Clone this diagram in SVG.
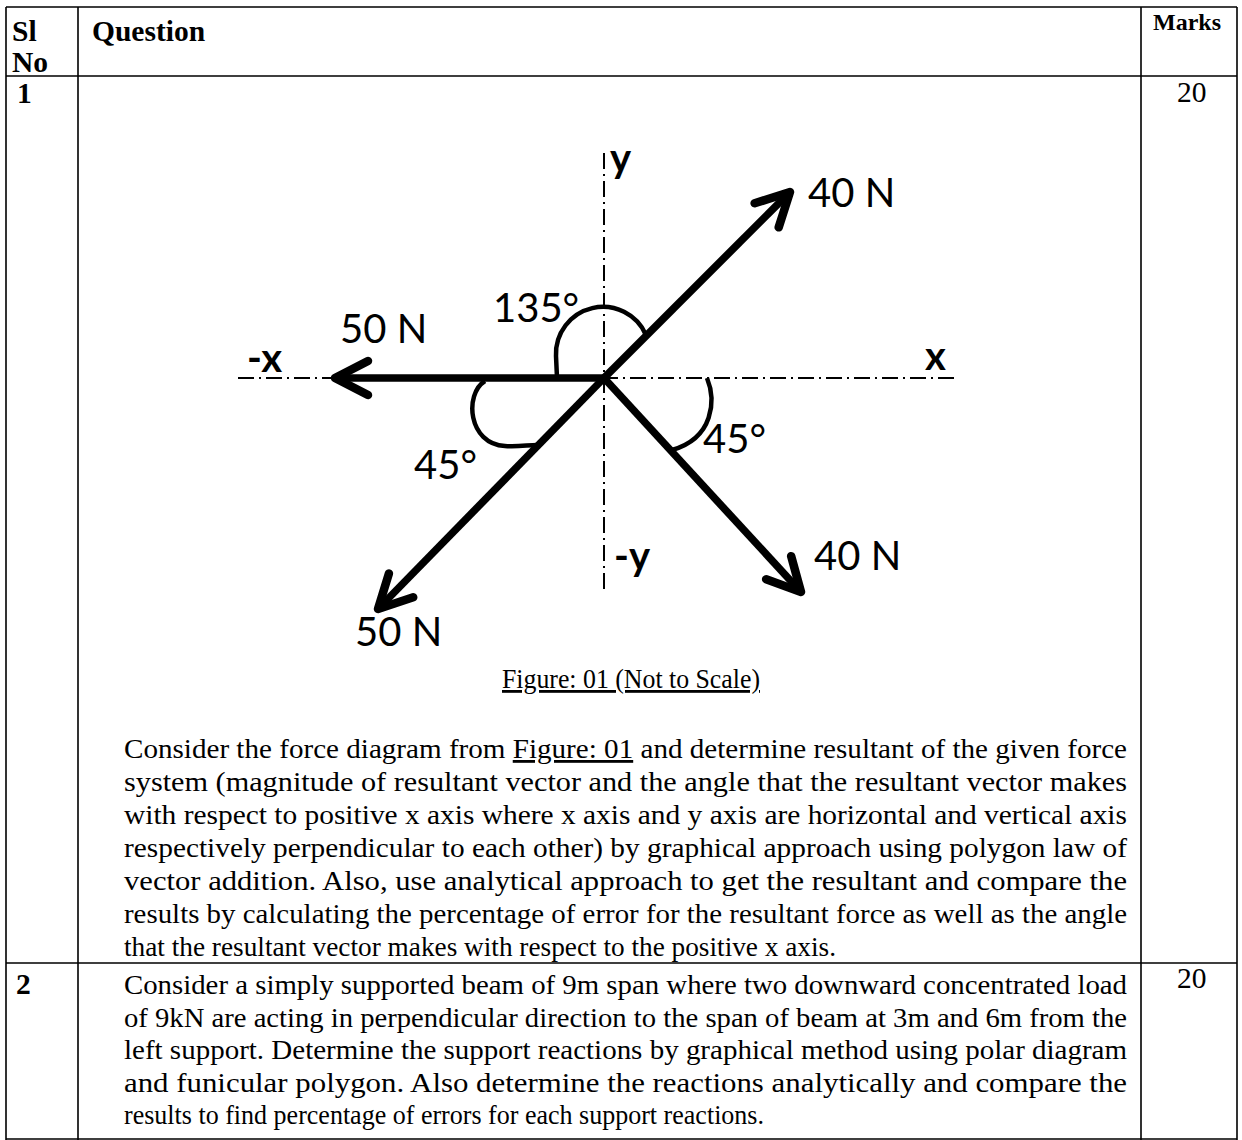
<svg xmlns="http://www.w3.org/2000/svg" width="1242" height="1140" viewBox="0 0 1242 1140">
<defs>
<style>
.tb{stroke:#000;stroke-width:1.6;fill:none}
.t{font-family:"Liberation Serif","Times New Roman",serif;font-size:29.5px;fill:#000}
.p{font-family:"Liberation Serif","Times New Roman",serif;font-size:28px;fill:#000}
.b{font-weight:bold}
.ax{stroke:#000;stroke-width:2;stroke-dasharray:16 5 2 5;fill:none}
.vec{stroke:#000;stroke-width:7.5;fill:none;marker-end:url(#ah)}
.arc{stroke:#000;stroke-width:4.5;fill:none}
.lb{font-family:Lato,"Liberation Sans",sans-serif;font-size:40px;fill:#000}
.lbb{font-weight:bold}
</style>
<marker id="ah" markerUnits="userSpaceOnUse" markerWidth="80" markerHeight="80" refX="0" refY="0" orient="auto" overflow="visible">
<path d="M-33,-17 L0,0 L-33,17" fill="none" stroke="#000" stroke-width="8.5" stroke-linecap="round" stroke-linejoin="round"/>
</marker>
</defs>
<rect width="1242" height="1140" fill="#fff"/>

<g id="table">
<path class="tb" d="M6,7 H1237 M6,76 H1237 M6,963 H1237 M6,1139 H1237 M6,7 V1140 M78,7 V1140 M1141,7 V1140 M1237,7 V1140"/>
</g>

<g id="header">
<text class="t b" x="12" y="41">Sl</text>
<text class="t b" x="12" y="72">No</text>
<text class="t b" x="92" y="41">Question</text>
<text class="t b" x="1153" y="30" style="font-size:24px">Marks</text>
</g>

<g id="row1-cells">
<text class="t b" x="17" y="103">1</text>
<text class="t" x="1177" y="102">20</text>
</g>

<g id="figure">
<g id="axes">
<path class="ax" d="M238,378 H957"/>
<path class="ax" d="M604,153 V594"/>
</g>
<g id="connectors">
<path class="vec" d="M604,378 L335,378"/>
<path class="vec" d="M604,378 L790,192"/>
<path class="vec" d="M604,378 L801,592"/>
<path class="vec" d="M604,378 L378,609"/>
</g>
<g id="angle-arcs">
<path class="arc" d="M557,378 L556,356 A47,47 0 0 1 646,335"/>
<path class="arc" d="M485,381 C464,394 468,444 505,446 C518,447 528,445 537,445"/>
<path class="arc" d="M707,378 C716,400 714,438 672,450"/>
</g>
<g id="axis-labels">
<text class="lb lbb" x="610" y="172">y</text>
<text class="lb lbb" x="247" y="372">-x</text>
<text class="lb lbb" x="925" y="370">x</text>
<text class="lb lbb" x="614" y="570">-y</text>
</g>
<g id="force-labels">
<text class="lb" x="340" y="343">50 N</text>
<text class="lb" x="808" y="207">40 N</text>
<text class="lb" x="814" y="570">40 N</text>
<text class="lb" x="355" y="646">50 N</text>
</g>
<g id="angle-labels">
<text class="lb" x="493" y="322">135°</text>
<text class="lb" x="414" y="479">45°</text>
<text class="lb" x="703" y="453">45°</text>
</g>
<text class="p" x="502" y="688" textLength="258" lengthAdjust="spacingAndGlyphs" text-decoration="underline">Figure: 01 (Not to Scale)</text>
</g>

<g id="row1-text">
<text class="p" x="124" y="758" textLength="1003" lengthAdjust="spacingAndGlyphs">Consider the force diagram from <tspan text-decoration="underline">Figure: 01</tspan> and determine resultant of the given force</text>
<text class="p" x="124" y="791" textLength="1003" lengthAdjust="spacingAndGlyphs">system (magnitude of resultant vector and the angle that the resultant vector makes</text>
<text class="p" x="124" y="824" textLength="1003" lengthAdjust="spacingAndGlyphs">with respect to positive x axis where x axis and y axis are horizontal and vertical axis</text>
<text class="p" x="124" y="857" textLength="1003" lengthAdjust="spacingAndGlyphs">respectively perpendicular to each other) by graphical approach using polygon law of</text>
<text class="p" x="124" y="890" textLength="1003" lengthAdjust="spacingAndGlyphs">vector addition. Also, use analytical approach to get the resultant and compare the</text>
<text class="p" x="124" y="923" textLength="1003" lengthAdjust="spacingAndGlyphs">results by calculating the percentage of error for the resultant force as well as the angle</text>
<text class="p" x="124" y="956" textLength="712" lengthAdjust="spacingAndGlyphs">that the resultant vector makes with respect to the positive x axis.</text>
</g>

<g id="row2">
<text class="t b" x="16" y="994">2</text>
<text class="t" x="1177" y="988">20</text>
<text class="p" x="124" y="994" textLength="1003" lengthAdjust="spacingAndGlyphs">Consider a simply supported beam of 9m span where two downward concentrated load</text>
<text class="p" x="124" y="1027" textLength="1003" lengthAdjust="spacingAndGlyphs">of 9kN are acting in perpendicular direction to the span of beam at 3m and 6m from the</text>
<text class="p" x="124" y="1059" textLength="1003" lengthAdjust="spacingAndGlyphs">left support. Determine the support reactions by graphical method using polar diagram</text>
<text class="p" x="124" y="1092" textLength="1003" lengthAdjust="spacingAndGlyphs">and funicular polygon. Also determine the reactions analytically and compare the</text>
<text class="p" x="124" y="1124" textLength="640" lengthAdjust="spacingAndGlyphs">results to find percentage of errors for each support reactions.</text>
</g>
</svg>
